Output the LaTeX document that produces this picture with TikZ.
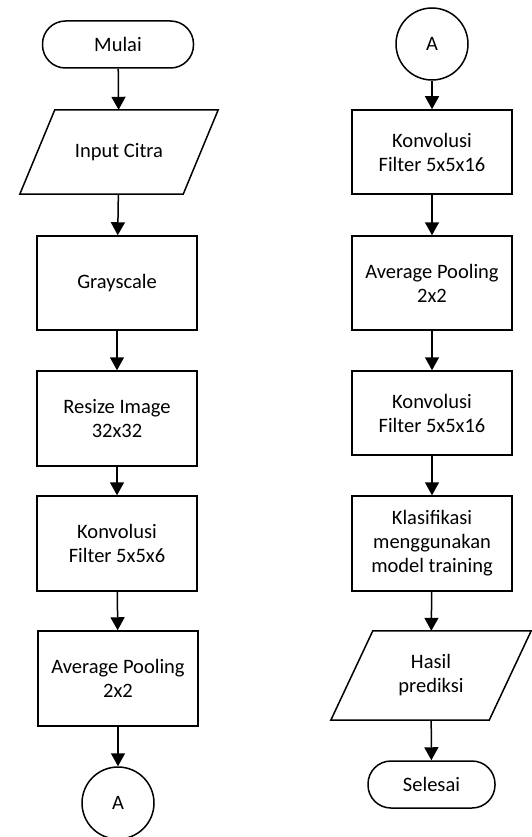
\documentclass[tikz,border=0pt]{standalone}
\usepackage{fontspec}
\setmainfont{Carlito}
\usetikzlibrary{arrows.meta}
\begin{document}
\begin{tikzpicture}[x=1pt,y=-1pt,
  every node/.style={font=\fontsize{20.5}{24}\selectfont, align=center, inner sep=0pt},
  box/.style={draw, line width=1.5pt, minimum width=160pt},
  term/.style={draw, line width=1.5pt, rounded corners=23pt, minimum height=47pt},
  conn/.style={draw, circle, line width=1.5pt, minimum size=72pt},
  iobox/.style={minimum width=198pt},
  para/.style={line width=1.5pt, line join=miter},
  flow/.style={line width=1.5pt, -{Triangle[length=13pt,width=14pt]}}]
\useasboundingbox (0,0) rectangle (531,837);
% left column
\node[term, minimum width=151pt] (mulai) at (118,44.5) {Mulai};
\node[iobox, minimum height=84pt] (input) at (119,152) {Input Citra};
\draw[para] ([xshift=35pt]input.north west) -- (input.north east)
  -- ([xshift=-35pt]input.south east) -- (input.south west) -- cycle;
\node[box, minimum height=94pt] (gray) at (117,283) {Grayscale};
\node[box, minimum height=95pt] (resize) at (117,418.5) {Resize Image\\32x32};
\node[box, minimum height=95pt] (konv) at (117,543.5) {Konvolusi\\Filter 5x5x6};
\node[box, minimum height=95pt] (avg) at (118,678.5) {Average Pooling\\2x2};
\node[conn] (a1) at (118,803) {A};
% right column
\node[conn] (a2) at (432,44) {A};
\node[box, minimum height=84pt] (konvb) at (432,152) {Konvolusi\\Filter 5x5x16};
\node[box, minimum height=94pt] (avgb) at (432,283) {Average Pooling\\2x2};
\node[box, minimum height=84pt] (konvc) at (432,413) {Konvolusi\\Filter 5x5x16};
\node[box, minimum height=95pt] (klas) at (432,543.5) {Klasifikasi\\menggunakan\\model training};
\node[minimum width=200pt, minimum height=89pt] (hasil) at (431,675.5) {Hasil\\prediksi};
\draw[para] ([xshift=42pt]hasil.north west) -- (hasil.north east)
  -- ([xshift=-42pt]hasil.south east) -- (hasil.south west) -- cycle;
\node[term, minimum width=127pt] (selesai) at (431.5,784.5) {Selesai};
% connectors
\draw[flow] (mulai) -- (input);
\draw[flow] (input) -- (gray);
\draw[flow] (gray) -- (resize);
\draw[flow] (resize) -- (konv);
\draw[flow] (konv) -- (avg);
\draw[flow] (avg) -- (a1);
\draw[flow] (a2) -- (konvb);
\draw[flow] (konvb) -- (avgb);
\draw[flow] (avgb) -- (konvc);
\draw[flow] (konvc) -- (klas);
\draw[flow] (klas) -- (hasil);
\draw[flow] (hasil) -- (selesai);
\end{tikzpicture}
\end{document}
